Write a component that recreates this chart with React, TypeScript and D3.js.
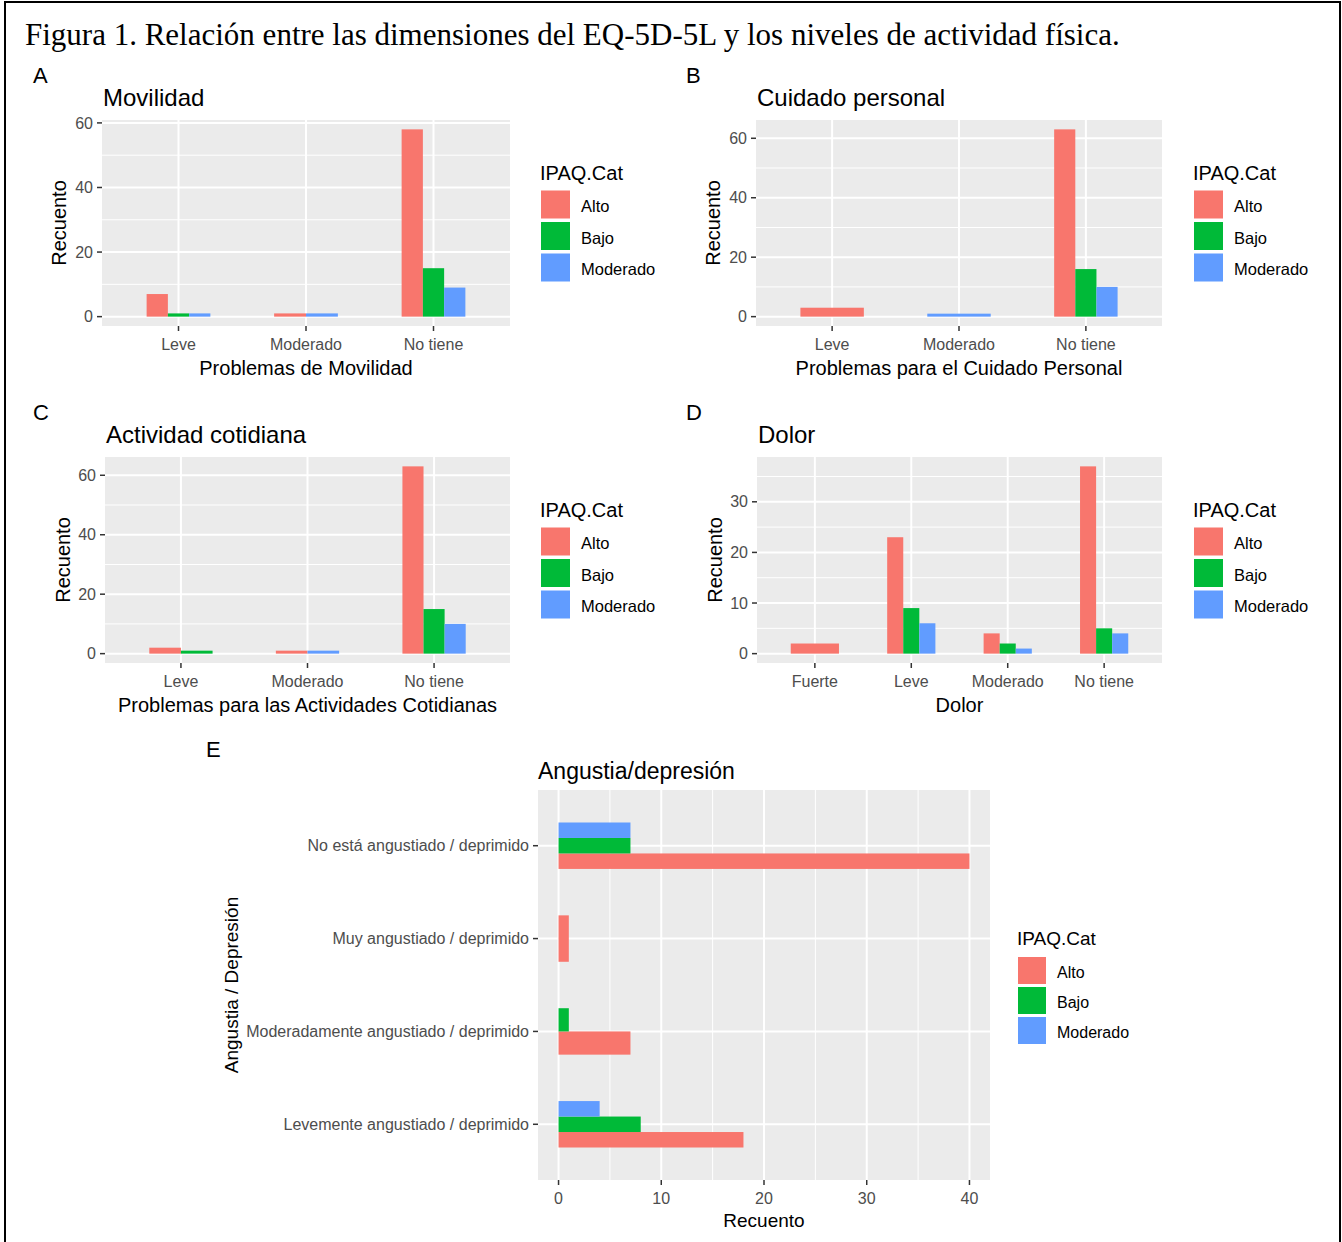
import React, { useRef, useEffect } from 'react';
import * as d3 from 'd3';

// series (IPAQ.Cat) and their ggplot colours
const series = ['Alto', 'Bajo', 'Moderado'];
const seriesColors = ['#F8766D', '#00BA38', '#619CFF'];

// A - Movilidad
const movCats = ['Leve', 'Moderado', 'No tiene'];
const movAlto = [7, 1, 58];
const movBajo = [1, 0, 15];
const movMod = [1, 1, 9];

// B - Cuidado personal
const cuiCats = ['Leve', 'Moderado', 'No tiene'];
const cuiAlto = [3, 0, 63];
const cuiBajo = [0, 0, 16];
const cuiMod = [0, 1, 10];

// C - Actividad cotidiana
const actCats = ['Leve', 'Moderado', 'No tiene'];
const actAlto = [2, 1, 63];
const actBajo = [1, 0, 15];
const actMod = [0, 1, 10];

// D - Dolor
const dolCats = ['Fuerte', 'Leve', 'Moderado', 'No tiene'];
const dolAlto = [2, 23, 4, 37];
const dolBajo = [0, 9, 2, 5];
const dolMod = [0, 6, 1, 4];

// E - Angustia/depresión (bottom to top)
const angCats = [
  'Levemente angustiado / deprimido',
  'Moderadamente angustiado / deprimido',
  'Muy angustiado / deprimido',
  'No está angustiado / deprimido',
];
const angAlto = [18, 7, 1, 40];
const angBajo = [8, 1, 0, 7];
const angMod = [4, 0, 0, 7];

const SANS = '"Liberation Sans", Arial, sans-serif';
const SERIF = '"Liberation Serif", "Times New Roman", serif';
const BG = '#EBEBEB';
const TICK_COL = '#4D4D4D';

const minorOf = (major, domain) => {
  const step = major[1] - major[0];
  const cand = [major[0] - step / 2, ...major.map(t => t + step / 2)];
  return cand.filter(t => t > domain[0] && t < domain[1]);
};

const drawLegend = (svg, lx, titleY, keyTop, keyW, keyH, keyStep, titleSize, labelSize) => {
  const g = svg.append('g');
  g.append('text')
    .attr('x', lx - 1)
    .attr('y', titleY)
    .attr('font-size', titleSize)
    .attr('fill', '#000')
    .text('IPAQ.Cat');
  series.forEach((s, i) => {
    g.append('rect')
      .attr('x', lx)
      .attr('y', keyTop + i * keyStep)
      .attr('width', keyW)
      .attr('height', keyH)
      .attr('fill', seriesColors[i]);
    g.append('text')
      .attr('x', lx + keyW + 11)
      .attr('y', keyTop + i * keyStep + keyH / 2 + 2)
      .attr('dy', '0.35em')
      .attr('font-size', labelSize)
      .attr('fill', '#000')
      .text(s);
  });
};

// vertical grouped (dodged) bar panel
const drawVPanel = (svg, p) => {
  const { x0, y0, x1, y1, cats, values } = p;
  const g = svg.append('g');
  const max = d3.max(values.flat());
  const domain = [-0.05 * max, max * 1.05];
  const y = d3.scaleLinear().domain(domain).range([y1, y0]);
  const x = d3.scalePoint().domain(cats).range([x0, x1]).padding(0.6);
  const major = y.ticks(4);
  const minor = minorOf(major, domain);

  g.append('rect')
    .attr('x', x0).attr('y', y0)
    .attr('width', x1 - x0).attr('height', y1 - y0)
    .attr('fill', BG);

  g.selectAll('.minor')
    .data(minor)
    .enter().append('line')
    .attr('x1', x0).attr('x2', x1)
    .attr('y1', d => y(d)).attr('y2', d => y(d))
    .attr('stroke', '#fff').attr('stroke-width', 1);

  g.selectAll('.hmajor')
    .data(major)
    .enter().append('line')
    .attr('x1', x0).attr('x2', x1)
    .attr('y1', d => y(d)).attr('y2', d => y(d))
    .attr('stroke', '#fff').attr('stroke-width', 2);

  g.selectAll('.vmajor')
    .data(cats)
    .enter().append('line')
    .attr('x1', d => x(d)).attr('x2', d => x(d))
    .attr('y1', y0).attr('y2', y1)
    .attr('stroke', '#fff').attr('stroke-width', 2);

  // bars, dodged among the groups present in each category
  const groupW = x.step() * 0.5;
  cats.forEach((c, i) => {
    const present = series.map((s, k) => k).filter(k => values[k][i] > 0);
    const w = groupW / present.length;
    present.forEach((k, j) => {
      g.append('rect')
        .attr('x', x(c) - groupW / 2 + j * w)
        .attr('y', y(values[k][i]))
        .attr('width', w)
        .attr('height', y(0) - y(values[k][i]))
        .attr('fill', seriesColors[k]);
    });
  });

  // y axis
  major.forEach(t => {
    g.append('line')
      .attr('x1', x0 - 5).attr('x2', x0)
      .attr('y1', y(t)).attr('y2', y(t))
      .attr('stroke', '#333').attr('stroke-width', 1.5);
    g.append('text')
      .attr('x', x0 - 9).attr('y', y(t))
      .attr('dy', '0.35em')
      .attr('text-anchor', 'end')
      .attr('font-size', 16)
      .attr('fill', TICK_COL)
      .text(t);
  });

  // x axis
  cats.forEach(c => {
    g.append('line')
      .attr('x1', x(c)).attr('x2', x(c))
      .attr('y1', y1).attr('y2', y1 + 5)
      .attr('stroke', '#333').attr('stroke-width', 1.5);
    g.append('text')
      .attr('x', x(c)).attr('y', y1 + 24)
      .attr('text-anchor', 'middle')
      .attr('font-size', 16)
      .attr('fill', TICK_COL)
      .text(c);
  });

  g.append('text')
    .attr('x', (x0 + x1) / 2).attr('y', y1 + 49)
    .attr('text-anchor', 'middle')
    .attr('font-size', 20)
    .text(p.xTitle);

  g.append('text')
    .attr('transform', `translate(${p.yTitleX},${(y0 + y1) / 2}) rotate(-90)`)
    .attr('text-anchor', 'middle')
    .attr('font-size', 20)
    .text('Recuento');

  g.append('text')
    .attr('x', x0 + 1).attr('y', y0 - 14)
    .attr('font-size', 24)
    .text(p.title);

  g.append('text')
    .attr('x', p.tagX).attr('y', y0 - 37)
    .attr('font-size', 22)
    .text(p.tag);

  drawLegend(svg, p.legendX, y0 + 60, y0 + 70.5, 29, 28, 31.5, 20, 16.5);
};

// horizontal (flipped) panel for E
const drawHPanel = (svg, p) => {
  const { x0, y0, x1, y1, cats, values } = p;
  const g = svg.append('g');
  const max = d3.max(values.flat());
  const domain = [-0.05 * max, max * 1.05];
  const x = d3.scaleLinear().domain(domain).range([x0, x1]);
  const y = d3.scalePoint().domain(cats).range([y1, y0]).padding(0.6);
  const major = x.ticks(4);
  const minor = minorOf(major, domain);

  g.append('rect')
    .attr('x', x0).attr('y', y0)
    .attr('width', x1 - x0).attr('height', y1 - y0)
    .attr('fill', BG);

  g.selectAll('.minor')
    .data(minor)
    .enter().append('line')
    .attr('x1', d => x(d)).attr('x2', d => x(d))
    .attr('y1', y0).attr('y2', y1)
    .attr('stroke', '#fff').attr('stroke-width', 1);

  g.selectAll('.vmajor')
    .data(major)
    .enter().append('line')
    .attr('x1', d => x(d)).attr('x2', d => x(d))
    .attr('y1', y0).attr('y2', y1)
    .attr('stroke', '#fff').attr('stroke-width', 2);

  g.selectAll('.hmajor')
    .data(cats)
    .enter().append('line')
    .attr('x1', x0).attr('x2', x1)
    .attr('y1', d => y(d)).attr('y2', d => y(d))
    .attr('stroke', '#fff').attr('stroke-width', 2);

  const groupH = y.step() * 0.5;
  cats.forEach((c, i) => {
    const present = series.map((s, k) => k).filter(k => values[k][i] > 0);
    const h = groupH / present.length;
    present.forEach((k, j) => {
      g.append('rect')
        .attr('x', x(0))
        .attr('y', y(c) + groupH / 2 - (j + 1) * h)
        .attr('width', x(values[k][i]) - x(0))
        .attr('height', h)
        .attr('fill', seriesColors[k]);
    });
  });

  major.forEach(t => {
    g.append('line')
      .attr('x1', x(t)).attr('x2', x(t))
      .attr('y1', y1).attr('y2', y1 + 5)
      .attr('stroke', '#333').attr('stroke-width', 1.5);
    g.append('text')
      .attr('x', x(t)).attr('y', y1 + 24)
      .attr('text-anchor', 'middle')
      .attr('font-size', 16)
      .attr('fill', TICK_COL)
      .text(t);
  });

  cats.forEach(c => {
    g.append('line')
      .attr('x1', x0 - 5).attr('x2', x0)
      .attr('y1', y(c)).attr('y2', y(c))
      .attr('stroke', '#333').attr('stroke-width', 1.5);
    g.append('text')
      .attr('x', x0 - 9).attr('y', y(c))
      .attr('dy', '0.35em')
      .attr('text-anchor', 'end')
      .attr('font-size', 16)
      .attr('fill', TICK_COL)
      .text(c);
  });

  g.append('text')
    .attr('x', (x0 + x1) / 2).attr('y', y1 + 47)
    .attr('text-anchor', 'middle')
    .attr('font-size', 19)
    .text('Recuento');

  g.append('text')
    .attr('transform', `translate(${p.yTitleX},${(y0 + y1) / 2}) rotate(-90)`)
    .attr('text-anchor', 'middle')
    .attr('font-size', 19)
    .text('Angustia / Depresión');

  g.append('text')
    .attr('x', x0).attr('y', y0 - 11)
    .attr('font-size', 23)
    .text('Angustia/depresión');

  g.append('text')
    .attr('x', p.tagX).attr('y', y0 - 33)
    .attr('font-size', 22)
    .text('E');

  drawLegend(svg, p.legendX, 945, 957, 28, 27, 30, 19, 16);
};

const App = () => {
  const svgRef = useRef(null);

  useEffect(() => {
    const svg = d3.select(svgRef.current);
    svg.selectAll('*').remove();
    svg.attr('font-family', SANS);

    svg.append('rect')
      .attr('width', 1342).attr('height', 1242)
      .attr('fill', '#fff');

    // figure frame (open at the bottom)
    svg.append('rect')
      .attr('x', 5).attr('y', 2)
      .attr('width', 1335).attr('height', 1300)
      .attr('fill', 'none')
      .attr('stroke', '#000')
      .attr('stroke-width', 2);

    svg.append('text')
      .attr('x', 25).attr('y', 45)
      .attr('font-family', SERIF)
      .attr('font-size', 31)
      .text('Figura 1. Relación entre las dimensiones del EQ-5D-5L y los niveles de actividad física.');

    drawVPanel(svg, {
      x0: 102, y0: 120, x1: 510, y1: 326,
      cats: movCats, values: [movAlto, movBajo, movMod],
      title: 'Movilidad', xTitle: 'Problemas de Movilidad', tag: 'A',
      tagX: 33, yTitleX: 66, legendX: 541,
    });
    drawVPanel(svg, {
      x0: 756, y0: 120, x1: 1162, y1: 326,
      cats: cuiCats, values: [cuiAlto, cuiBajo, cuiMod],
      title: 'Cuidado personal', xTitle: 'Problemas para el Cuidado Personal', tag: 'B',
      tagX: 686, yTitleX: 720, legendX: 1194,
    });
    drawVPanel(svg, {
      x0: 105, y0: 457, x1: 510, y1: 663,
      cats: actCats, values: [actAlto, actBajo, actMod],
      title: 'Actividad cotidiana', xTitle: 'Problemas para las Actividades Cotidianas', tag: 'C',
      tagX: 33, yTitleX: 70, legendX: 541,
    });
    drawVPanel(svg, {
      x0: 757, y0: 457, x1: 1162, y1: 663,
      cats: dolCats, values: [dolAlto, dolBajo, dolMod],
      title: 'Dolor', xTitle: 'Dolor', tag: 'D',
      tagX: 686, yTitleX: 722, legendX: 1194,
    });
    drawHPanel(svg, {
      x0: 538, y0: 790, x1: 990, y1: 1180,
      cats: angCats, values: [angAlto, angBajo, angMod],
      tagX: 206, yTitleX: 238, legendX: 1018,
    });
  }, []);

  return (
    <svg
      ref={svgRef}
      width={1342}
      height={1242}
      style={{ position: 'absolute', left: 0, top: 0 }}
    />
  );
};

export default App;
